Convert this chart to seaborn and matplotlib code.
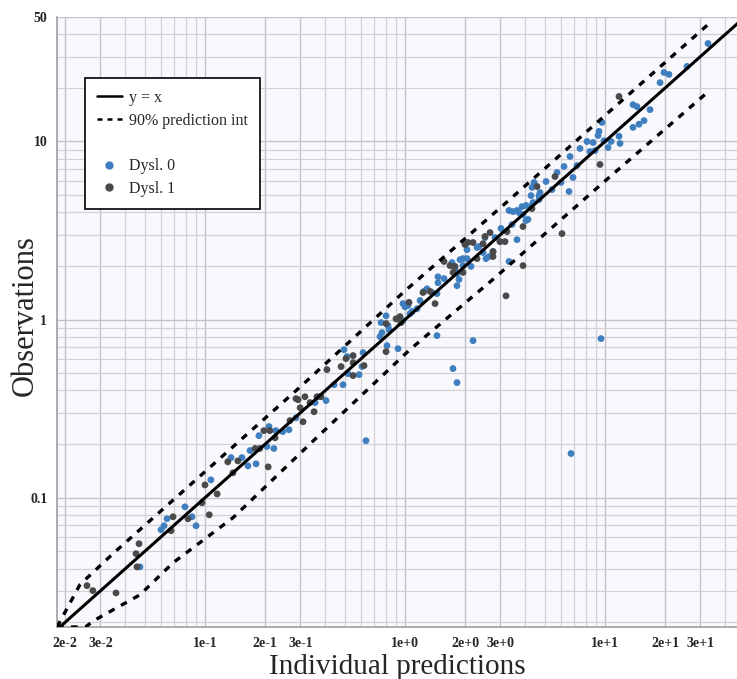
import numpy as np
import pandas as pd
import matplotlib
matplotlib.use("Agg")
import matplotlib.pyplot as plt
import seaborn as sns
from matplotlib.lines import Line2D
from matplotlib.ticker import FixedLocator, FixedFormatter, NullFormatter

# Individual predictions / observations, Dysl. 0
pred_0 = [0.0473, 0.0794, 0.0861, 0.0902, 0.0646, 0.0624, 0.0603, 0.107, 0.135, 0.153,
          0.164, 0.180, 0.168, 0.186, 0.209, 0.204, 0.221, 0.226, 0.245, 0.263,
          0.285, 0.355, 0.403, 0.372, 0.442, 0.490, 0.513, 0.495, 0.519, 0.589,
          0.610, 0.617, 0.813, 0.923, 0.750, 0.767, 0.832, 0.822, 0.759, 0.804,
          0.977, 1.0, 0.977, 1.035, 1.084, 1.059, 1.148, 1.189, 1.245, 1.288,
          1.365, 1.445, 1.462, 1.462, 1.567, 1.718, 1.778, 1.950, 1.820, 1.862,
          1.820, 1.950, 2.042, 2.138, 1.884, 2.291, 2.344, 2.512, 2.541, 2.630,
          3.631, 3.311, 1.445, 2.188, 1.738, 1.820, 0.638, 6.761, 9.550, 2.042,
          2.455, 2.754, 2.818, 2.985, 3.020, 3.428, 4.027, 4.121, 3.890, 3.311,
          3.467, 3.631, 3.715, 3.846, 4.027, 4.217, 4.365, 4.677, 4.677, 4.315,
          4.266, 4.416, 4.732, 5.070, 5.433, 5.754, 6.026, 6.237, 6.607, 6.918,
          6.683, 7.244, 7.499, 8.128, 8.710, 8.414, 8.913, 9.226, 9.333, 9.661,
          9.886, 10.35, 10.72, 11.75, 11.89, 13.80, 14.45, 13.80, 14.79, 32.73,
          25.70, 19.72, 20.89, 18.84, 16.79, 15.67]
obs_0 = [0.0409, 0.0889, 0.0782, 0.0696, 0.0762, 0.0696, 0.0661, 0.126, 0.168, 0.168,
         0.151, 0.155, 0.184, 0.223, 0.251, 0.194, 0.189, 0.238, 0.235, 0.241,
         0.281, 0.342, 0.351, 0.369, 0.431, 0.431, 0.620, 0.678, 0.497, 0.491,
         0.545, 0.653, 0.714, 0.687, 0.803, 0.845, 0.879, 0.925, 0.962, 1.05,
         0.987, 1.18, 1.23, 1.20, 1.11, 1.08, 1.15, 1.28, 1.44, 1.49,
         1.42, 1.40, 1.74, 1.61, 1.70, 2.09, 1.93, 2.01, 1.81, 1.68,
         1.55, 2.20, 2.20, 1.99, 2.17, 2.54, 2.57, 2.89, 2.20, 2.26,
         2.81, 2.12, 0.813, 0.762, 0.531, 0.443, 0.209, 0.177, 0.782, 2.47,
         2.38, 2.41, 2.89, 2.74, 3.25, 3.42, 3.60, 3.65, 3.89, 4.10,
         4.04, 4.10, 3.99, 4.31, 4.37, 4.31, 4.54, 4.97, 4.72, 5.52,
         4.97, 5.89, 5.17, 5.96, 5.37, 6.70, 5.89, 7.24, 5.24, 6.28,
         8.24, 7.33, 9.14, 10.0, 9.87, 8.79, 8.90, 10.8, 11.4, 12.8,
         10.1, 9.25, 10.0, 10.7, 9.75, 16.1, 15.7, 12.0, 12.5, 35.5,
         26.4, 24.4, 23.8, 21.4, 15.1, 13.1]

# Dysl. 1
pred_1 = [0.0468, 0.0452, 0.0457, 0.0257, 0.0275, 0.0359, 0.0966, 0.105, 0.0822, 0.0692,
          0.0676, 0.100, 0.115, 0.130, 0.138, 0.146, 0.178, 0.188, 0.207, 0.197,
          0.211, 0.224, 0.266, 0.309, 0.299, 0.285, 0.292, 0.316, 0.335, 0.351,
          0.363, 0.380, 0.407, 0.479, 0.507, 0.550, 0.550, 0.550, 0.624, 0.804,
          0.804, 0.902, 0.944, 0.955, 1.047, 1.230, 1.334, 1.413, 1.567, 1.679,
          1.738, 1.950, 1.995, 2.065, 2.188, 2.455, 2.512, 2.661, 2.754, 2.754,
          2.985, 3.162, 3.236, 2.291, 1.778, 3.890, 4.315, 4.571, 5.623, 6.095,
          9.441, 11.75, 3.890, 3.199]
obs_1 = [0.0552, 0.0485, 0.0409, 0.0321, 0.0301, 0.0292, 0.0937, 0.0802, 0.0762, 0.0782,
         0.0653, 0.118, 0.105, 0.159, 0.138, 0.161, 0.189, 0.189, 0.149, 0.238,
         0.238, 0.217, 0.271, 0.267, 0.320, 0.360, 0.355, 0.369, 0.342, 0.304,
         0.369, 0.369, 0.524, 0.545, 0.604, 0.628, 0.573, 0.485, 0.552, 0.661,
         0.950, 1.01, 1.04, 0.962, 1.25, 1.42, 1.44, 1.23, 2.12, 2.01,
         1.84, 1.84, 2.64, 2.71, 2.71, 2.67, 2.93, 3.08, 2.41, 2.26,
         2.74, 2.74, 3.12, 2.20, 1.99, 3.33, 4.20, 5.59, 6.36, 3.04,
         7.43, 17.9, 2.01, 1.36]

# 90% prediction interval
pi_upper_x = [0.0182, 0.0237, 0.035, 0.05, 0.1, 0.3, 1.0, 3.0, 10.0, 32.4]
pi_upper_y = [0.0188, 0.0325, 0.049, 0.07, 0.14, 0.42, 1.45, 4.25, 14.0, 44.9]
pi_lower_x = [0.0182, 0.0252, 0.0282, 0.0473, 0.0692, 0.138, 0.35, 1.06, 2.75, 10.0, 32.4]
pi_lower_y = [0.0188, 0.0188, 0.0206, 0.0285, 0.0431, 0.0772, 0.21, 0.68, 1.68, 6.0, 18.8]

identity = [0.0182, 50.0]

x_ticks = [0.02, 0.03, 0.1, 0.2, 0.3, 1, 2, 3, 10, 20, 30]
x_labels = ["2e-2", "3e-2", "1e-1", "2e-1", "3e-1", "1e+0", "2e+0", "3e+0", "1e+1", "2e+1", "3e+1"]
y_ticks = [0.1, 1, 10, 50]
y_labels = ["0.1", "1", "10", "50"]

pts = pd.concat([
    pd.DataFrame({"pred": pred_0, "obs": obs_0, "group": "Dysl. 0"}),
    pd.DataFrame({"pred": pred_1, "obs": obs_1, "group": "Dysl. 1"}),
])

sns.set_style("white")
plt.rcParams["font.family"] = ["Liberation Serif", "DejaVu Serif"]

blue = "#3f7fbf"
dark = "#4a4a4a"

fig = plt.figure(figsize=(7.37, 6.79), dpi=100)
ax = fig.add_axes([57 / 737, 52 / 679, 680 / 737, 610 / 679])
ax.set_facecolor("#f9f9fd")
ax.set_xscale("log")
ax.set_yscale("log")

sns.lineplot(x=identity, y=identity, ax=ax, color="black", lw=2.2, zorder=4)
sns.lineplot(x=pi_upper_x, y=pi_upper_y, ax=ax, color="black", lw=2.4, sort=False,
             estimator=None, linestyle=(0, (2.0, 2.2)), zorder=4)
sns.lineplot(x=pi_lower_x, y=pi_lower_y, ax=ax, color="black", lw=2.4, sort=False,
             estimator=None, linestyle=(0, (2.0, 2.2)), zorder=4)
sns.scatterplot(data=pts, x="pred", y="obs", hue="group", palette=[blue, dark],
                s=24, linewidth=0, ax=ax, zorder=3, legend=False)

ax.set_xlim(0.0182, 45.7)
ax.set_ylim(0.0188, 50)

minor_x = [m * 10.0 ** e for e in range(-2, 2) for m in range(1, 10)]
minor_x = [v for v in minor_x if not any(np.isclose(v, t) for t in x_ticks)]
minor_y = [m * 10.0 ** e for e in range(-2, 2) for m in range(1, 10)]
minor_y = [v for v in minor_y if not any(np.isclose(v, t) for t in y_ticks)]

ax.xaxis.set_major_locator(FixedLocator(x_ticks))
ax.xaxis.set_major_formatter(FixedFormatter(x_labels))
ax.xaxis.set_minor_locator(FixedLocator(minor_x))
ax.xaxis.set_minor_formatter(NullFormatter())
ax.yaxis.set_major_locator(FixedLocator(y_ticks))
ax.yaxis.set_major_formatter(FixedFormatter(y_labels))
ax.yaxis.set_minor_locator(FixedLocator(minor_y))
ax.yaxis.set_minor_formatter(NullFormatter())

ax.grid(True, which="major", color="#c4c4c8", lw=1.0, zorder=0)
ax.grid(True, which="minor", color="#d2d2d6", lw=0.9, zorder=0)
ax.set_axisbelow(True)

for side in ["top", "right"]:
    ax.spines[side].set_visible(False)
for side in ["left", "bottom"]:
    ax.spines[side].set_color("#a0a0a0")
    ax.spines[side].set_linewidth(1.2)

ax.tick_params(which="both", direction="out", color="#a0a0a0", length=5, width=1,
               labelsize=10, pad=2)
for lab in ax.get_xticklabels() + ax.get_yticklabels():
    lab.set_fontweight("bold")

ax.set_xlabel("Individual predictions", fontsize=21)
ax.set_ylabel("Observations", fontsize=22)
ax.xaxis.set_label_coords(0.5, -0.045)
ax.yaxis.set_label_coords(-0.026, 0.51)

handles = [
    Line2D([], [], color="black", lw=1.8),
    Line2D([], [], color="black", lw=1.8, linestyle=(0, (2, 2))),
    Line2D([], [], color="none"),
    Line2D([], [], color=blue, marker="o", linestyle="none", markersize=5),
    Line2D([], [], color=dark, marker="o", linestyle="none", markersize=5),
]
labels = ["y = x", "90% prediction int", " ", "Dysl. 0", "Dysl. 1"]
leg = ax.legend(handles, labels, loc="upper left", bbox_to_anchor=(0.041, 0.9),
                borderaxespad=0, fontsize=11.5, frameon=True, fancybox=False,
                framealpha=1, edgecolor="black", handlelength=1.55, borderpad=0.75,
                labelspacing=0.42, handletextpad=0.45)
leg.get_frame().set_linewidth(1.2)

fig.savefig("out.png", dpi=100)
